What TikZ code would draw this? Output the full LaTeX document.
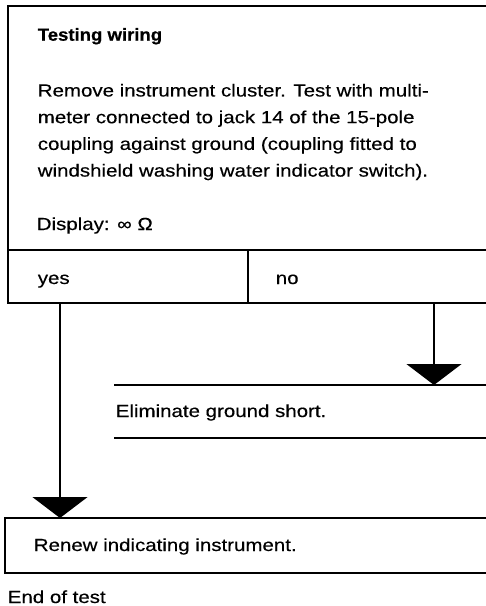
\documentclass[tikz,border=0pt]{standalone}
\usepackage{fontspec}
\setmainfont{Liberation Sans}[FakeStretch=1.17,FakeBold=0.4]
\newfontfamily\titlefont{Liberation Sans Bold}[FakeStretch=1.06,FakeBold=0.6]
\usetikzlibrary{arrows.meta}
\begin{document}
\begin{tikzpicture}[x=1pt,y=-1pt,line width=1.6pt,
  txt/.style={anchor=base west,inner sep=0pt,font=\fontsize{17.5}{26.7}\selectfont},
  arr/.style={-{Triangle[width=55pt,length=21pt]}}]
\useasboundingbox (0,0) rectangle (486,606);
% top box
\draw (490,6) -- (8,6) -- (8,303) -- (490,303);
\draw (8,250) -- (490,250);
\draw (248,250) -- (248,303);
\node[txt,font=\fontsize{17.5}{20}\titlefont] (title) at (37,40.7) {Testing wiring};
\node[txt,align=left,anchor=north west] (body) at (37,83) {Remove instrument cluster. Test with multi-\\meter connected to jack 14 of the 15-pole\\coupling against ground (coupling fitted to\\windshield washing water indicator switch).};
\node[txt] (disp) at (36,230) {Display: ∞ Ω};
\node[txt] (yes) at (37,284) {yes};
\node[txt] (no) at (275,284) {no};
% eliminate box
\draw (114,385) -- (490,385);
\draw (114,438) -- (490,438);
\node[txt] (elim) at (115,417) {Eliminate ground short.};
% renew box
\draw (490,518) -- (5,518) -- (5,573) -- (490,573);
\node[txt] (renew) at (33,551) {Renew indicating instrument.};
\node[txt] (end) at (7,603) {End of test};
% connectors
\coordinate (yesout) at (60,303);
\coordinate (renewin) at (60,518);
\coordinate (noout) at (434,303);
\coordinate (elimin) at (434,385);
\draw[arr] (yesout) -- (renewin);
\draw[arr] (noout) -- (elimin);
\end{tikzpicture}
\end{document}
